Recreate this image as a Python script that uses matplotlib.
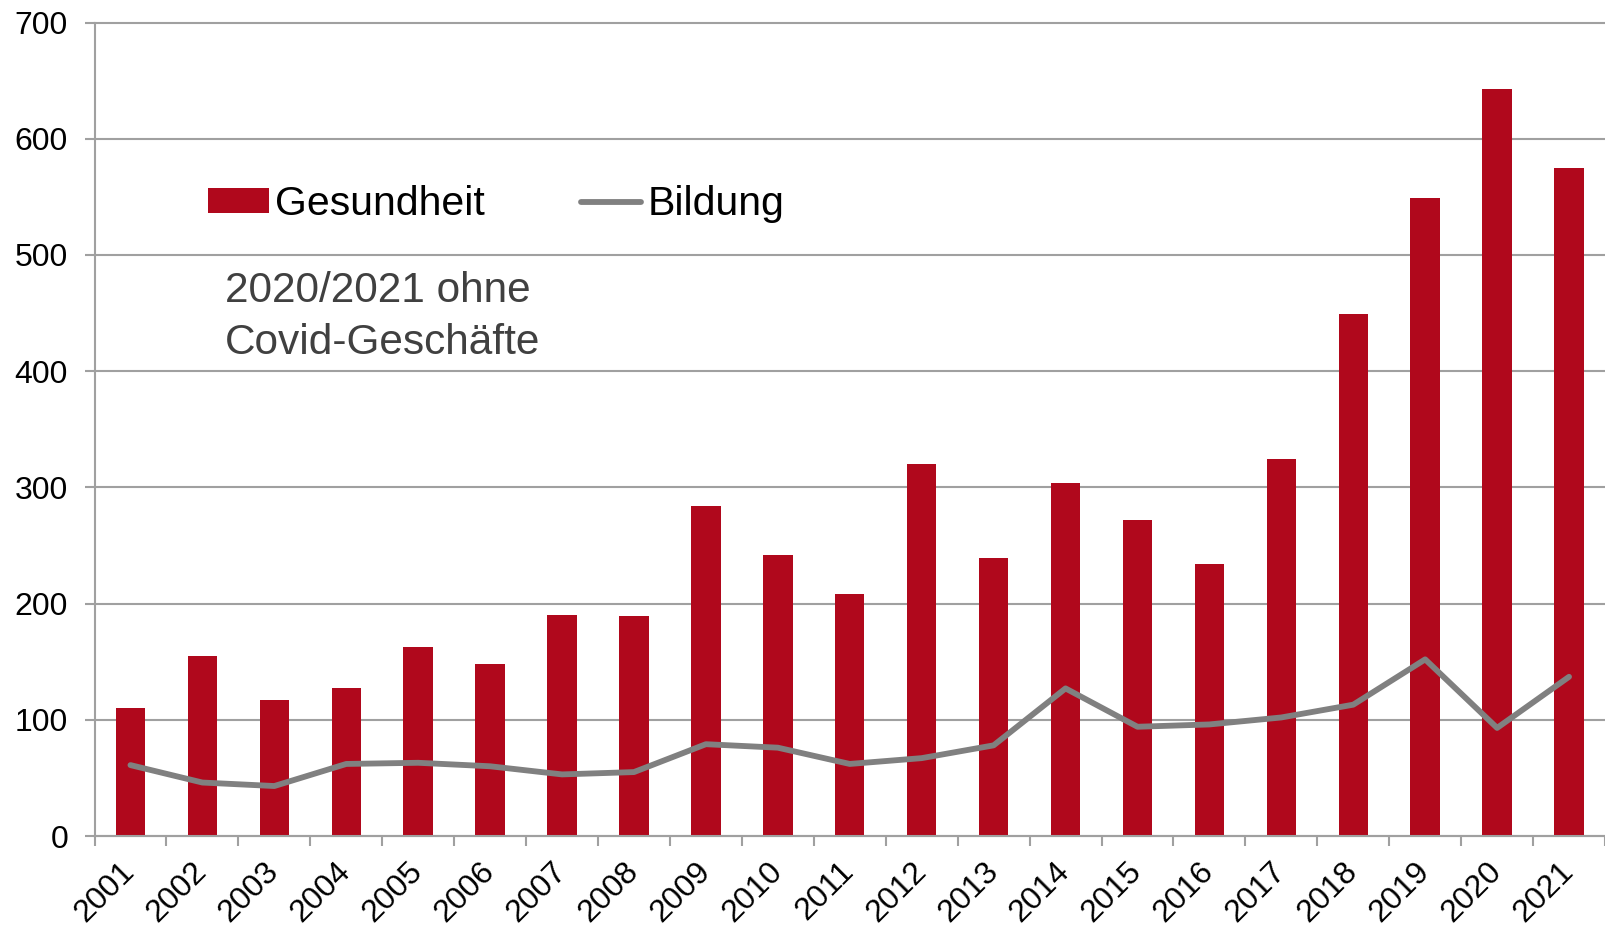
import numpy as np
import matplotlib
matplotlib.use("Agg")
import matplotlib.pyplot as plt
from matplotlib.patches import Patch
from matplotlib.lines import Line2D

years = ["2001", "2002", "2003", "2004", "2005", "2006", "2007", "2008", "2009", "2010",
         "2011", "2012", "2013", "2014", "2015", "2016", "2017", "2018", "2019", "2020", "2021"]
gesundheit = [110, 155, 117, 127, 163, 148, 190, 189, 284, 242,
              208, 320, 239, 304, 272, 234, 324, 449, 549, 643, 575]
bildung = [61, 46, 43, 62, 63, 60, 53, 55, 79, 76,
           62, 67, 78, 127, 94, 96, 102, 113, 152, 93, 137]
yticks = [0, 100, 200, 300, 400, 500, 600, 700]

RED = "#B0081C"
GRAY_LINE = "#808080"
GRID = "#A0A0A0"

plt.rcParams["font.family"] = ["Liberation Sans", "DejaVu Sans"]

W, H = 1605, 926
fig = plt.figure(figsize=(W / 100, H / 100), dpi=100)
left_px, right_px, bottom_px, top_px = 94.5, 1605, 836, 22.5
ax = fig.add_axes([left_px / W, (H - bottom_px) / H, (right_px - left_px) / W, (bottom_px - top_px) / H])

x = np.arange(len(years))
ax.bar(x, gesundheit, width=0.41, color=RED, zorder=2)
ax.plot(x, bildung, color=GRAY_LINE, lw=4.2, solid_joinstyle="round", solid_capstyle="round", zorder=3)

ax.set_ylim(0, 700)
ax.set_xlim(-0.5, 20.43)
ax.set_yticks(yticks)
ax.set_yticklabels([str(v) for v in yticks], fontsize=23)
ax.yaxis.grid(True, color=GRID, lw=1.5)
for gl in ax.get_ygridlines():
    gl.set_clip_on(False)
ax.set_axisbelow(True)

ax.set_xticks(np.arange(-0.5, len(years), 1.0))
ax.set_xticklabels([])
ax.set_xticks(x, minor=True)
ax.set_xticklabels(years, minor=True, fontsize=23, rotation=45, ha="right", va="center",
                   rotation_mode="anchor")
ax.tick_params(axis="x", which="major", length=7, width=1.5, color=GRID, direction="out")
ax.tick_params(axis="x", which="minor", length=0, pad=22)
ax.tick_params(axis="y", length=7, width=1.5, color=GRID, pad=12)

for s in ["top", "right"]:
    ax.spines[s].set_visible(False)
for s in ["left", "bottom"]:
    ax.spines[s].set_color(GRID)
    ax.spines[s].set_linewidth(1.5)

handles = [Patch(facecolor=RED, edgecolor="none", label="Gesundheit"),
           Line2D([], [], color=GRAY_LINE, lw=4.2, solid_capstyle="round", label="Bildung")]
fig.legend(handles=handles, loc="center left", bbox_to_anchor=(208 / W, 1 - 204 / H),
           ncol=2, frameon=False, fontsize=29.5, handlelength=1.48, handleheight=0.54,
           handletextpad=0.15, columnspacing=2.35, borderpad=0, borderaxespad=0)

fig.text(225 / W, 1 - 317 / H, "2020/2021 ohne\nCovid-Geschäfte", fontsize=30.5,
         color="#404040", ha="left", va="center", linespacing=1.4)

fig.savefig("out.png", dpi=100)
